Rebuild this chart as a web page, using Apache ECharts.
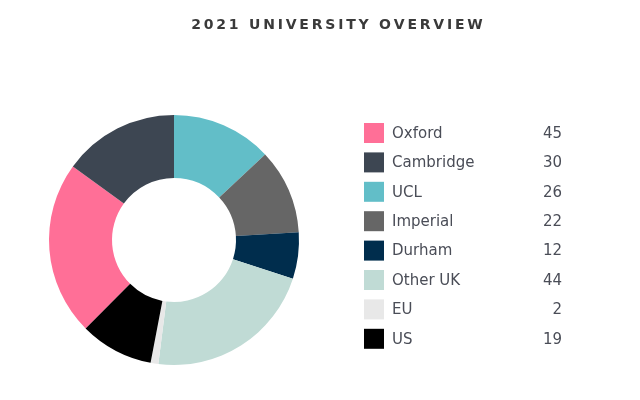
<!DOCTYPE html>
<html><head><meta charset="utf-8">
<script src="https://cdn.jsdelivr.net/npm/echarts@6/dist/echarts.min.js"></script>
<style>html,body{margin:0;padding:0;background:#fff}#c{width:640px;height:400px}</style>
</head><body><div id="c"></div>
<script>
const titleText = '2021 UNIVERSITY OVERVIEW';
const categories = ['Oxford','Cambridge','UCL','Imperial','Durham','Other UK','EU','US'];
const values = [45,30,26,22,12,44,2,19];
const colors = ['#ff6f97','#3d4652','#62bec8','#666666','#002d4d','#c0dbd5','#e8e8e8','#000000'];

const spaced = titleText.split('').join('\u2009');
const chart = echarts.init(document.getElementById('c'));
const valueOf = {};
categories.forEach((c,i)=>valueOf[c]=values[i]);
chart.setOption({
  animation:false,
  title:{text:spaced,left:332,textAlign:'center',top:13,
    textStyle:{fontFamily:'DejaVu Sans',fontSize:14,fontWeight:'bold',color:'#3a3a3a'}},
  legend:{orient:'vertical',left:359,top:118,itemWidth:20,itemHeight:20,itemGap:9.4,
    icon:'rect',selectedMode:false,
    formatter:n=>'{a|'+n+'}{b|'+valueOf[n]+'}',
    textStyle:{fontFamily:'DejaVu Sans',fontSize:15,color:'#4a4d57',
      rich:{a:{width:142,padding:[2,0,0,3],fontFamily:'DejaVu Sans',fontSize:15,color:'#4a4d57'},
            b:{width:28,align:'right',padding:[2,0,0,0],fontFamily:'DejaVu Sans',fontSize:15,color:'#4a4d57'}}}},
  series:[{type:'pie',radius:[62,125],center:[174,240],startAngle:225,clockwise:true,
    label:{show:false},labelLine:{show:false},emphasis:{disabled:true},silent:true,
    data:categories.map((c,i)=>({name:c,value:values[i],itemStyle:{color:colors[i]}}))}]
});
</script></body></html>
